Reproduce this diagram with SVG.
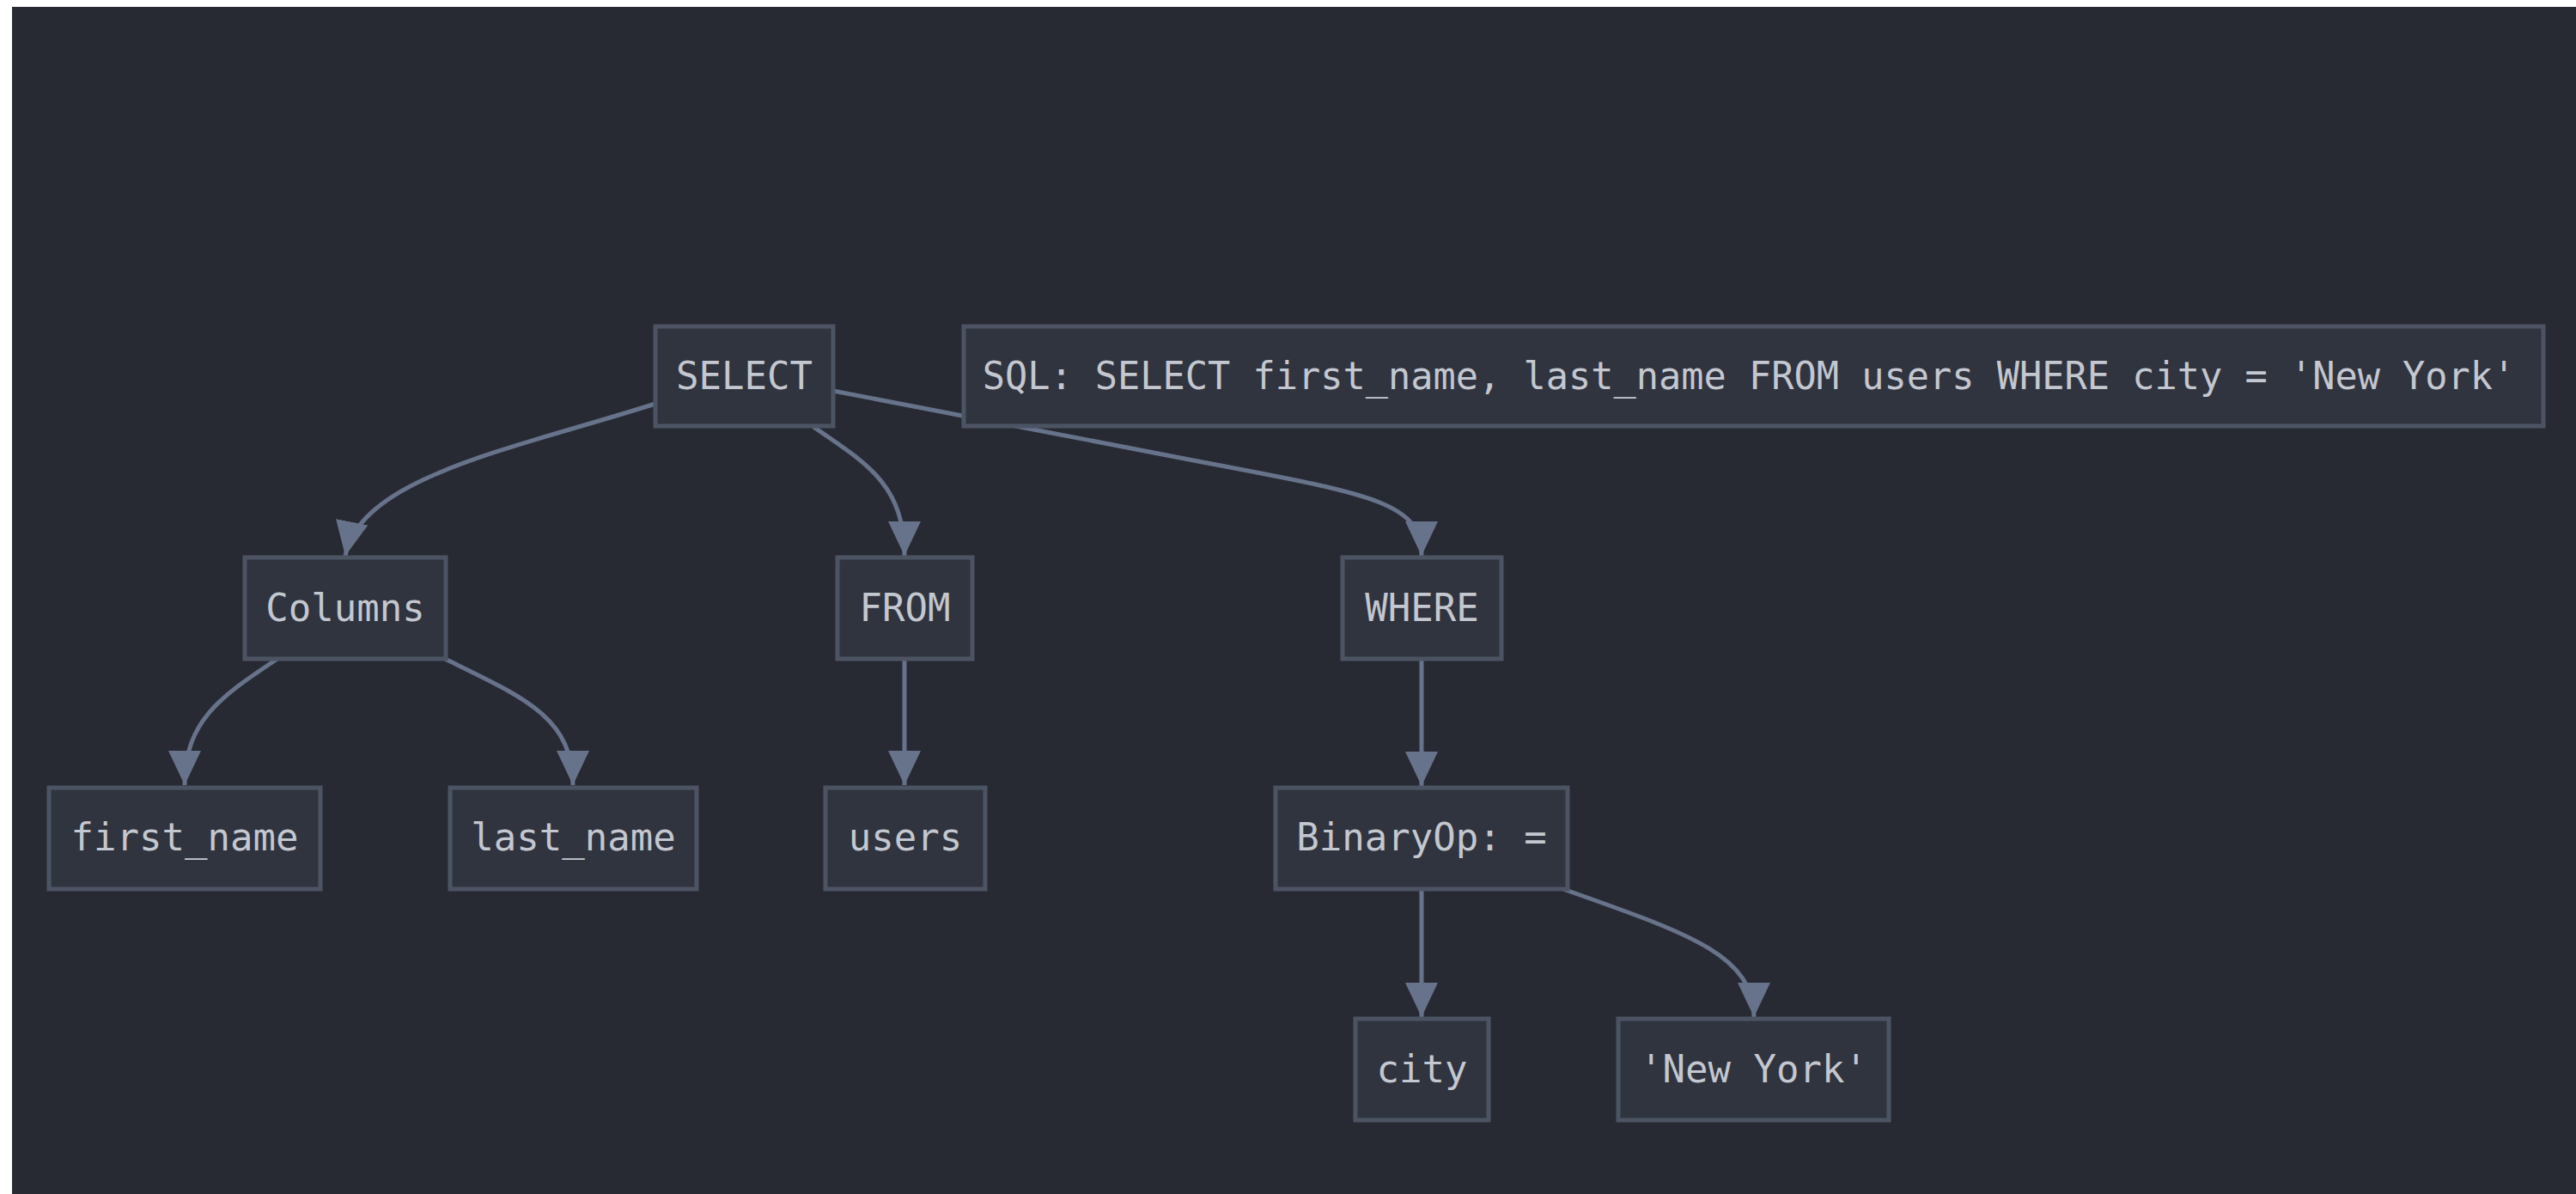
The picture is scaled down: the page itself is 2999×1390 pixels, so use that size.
<svg xmlns="http://www.w3.org/2000/svg" width="2999" height="1390" viewBox="0 0 2999 1390">
<style>
.node rect{fill:#30343f;stroke:#4c5464;stroke-width:5}
.node text{font-family:"DejaVu Sans Mono","Liberation Mono",monospace;font-size:44px;fill:#c3c7cf;text-anchor:middle}
.node text.note{font-size:43.6px}
.edge{fill:none;stroke:#67738b;stroke-width:5}
</style>
<defs>
<marker id="arrow" markerUnits="userSpaceOnUse" markerWidth="42" markerHeight="42" viewBox="0 0 42 42" refX="40" refY="21" orient="auto">
<path d="M0,2 L40,21 L0,40 Z" fill="#67738b"/>
</marker>
</defs>
<rect x="0" y="0" width="2999" height="1390" fill="#ffffff"/>
<rect x="14" y="8" width="2985" height="1382" fill="#282a33"/>
<g id="connectors">
<path class="edge" d="M763,470 C600,522 420,555 402,647" marker-end="url(#arrow)"/>
<path class="edge" d="M947,497 C1010,540 1053,565 1053,647" marker-end="url(#arrow)"/>
<path class="edge" d="M970,455 L1400,538 C1600,576 1655,585 1655,647" marker-end="url(#arrow)"/>
<path class="edge" d="M323,767 C255,812 215,840 215,914" marker-end="url(#arrow)"/>
<path class="edge" d="M518,767 C610,812 667,835 667,914" marker-end="url(#arrow)"/>
<path class="edge" d="M1053,767 L1053,914" marker-end="url(#arrow)"/>
<path class="edge" d="M1655,767 L1655,915" marker-end="url(#arrow)"/>
<path class="edge" d="M1655,1035 L1655,1184" marker-end="url(#arrow)"/>
<path class="edge" d="M1820,1035 C1960,1085 2042,1110 2042,1184" marker-end="url(#arrow)"/>
</g>
<g id="node-select" class="node"><rect x="763" y="380" width="207" height="116"/><text x="866.5" y="453">SELECT</text></g>
<g id="node-sql" class="node"><rect x="1122" y="380" width="1839" height="116"/><text class="note" x="2036" y="453">SQL: SELECT first_name, last_name FROM users WHERE city = 'New York'</text></g>
<g id="node-columns" class="node"><rect x="285" y="649" width="234" height="118"/><text x="402" y="723">Columns</text></g>
<g id="node-from" class="node"><rect x="975" y="649" width="157" height="118"/><text x="1053.5" y="723">FROM</text></g>
<g id="node-where" class="node"><rect x="1563" y="649" width="185" height="118"/><text x="1655.5" y="723">WHERE</text></g>
<g id="node-first-name" class="node"><rect x="57" y="917" width="316" height="118"/><text x="215" y="990">first_name</text></g>
<g id="node-last-name" class="node"><rect x="524" y="917" width="287" height="118"/><text x="667.5" y="990">last_name</text></g>
<g id="node-users" class="node"><rect x="961" y="917" width="186" height="118"/><text x="1054" y="990">users</text></g>
<g id="node-binaryop" class="node"><rect x="1485" y="917" width="340" height="118"/><text x="1655" y="990">BinaryOp: =</text></g>
<g id="node-city" class="node"><rect x="1578" y="1186" width="155" height="118"/><text x="1655.5" y="1260">city</text></g>
<g id="node-new-york" class="node"><rect x="1884" y="1186" width="315" height="118"/><text x="2041.5" y="1260">'New York'</text></g>
</svg>
